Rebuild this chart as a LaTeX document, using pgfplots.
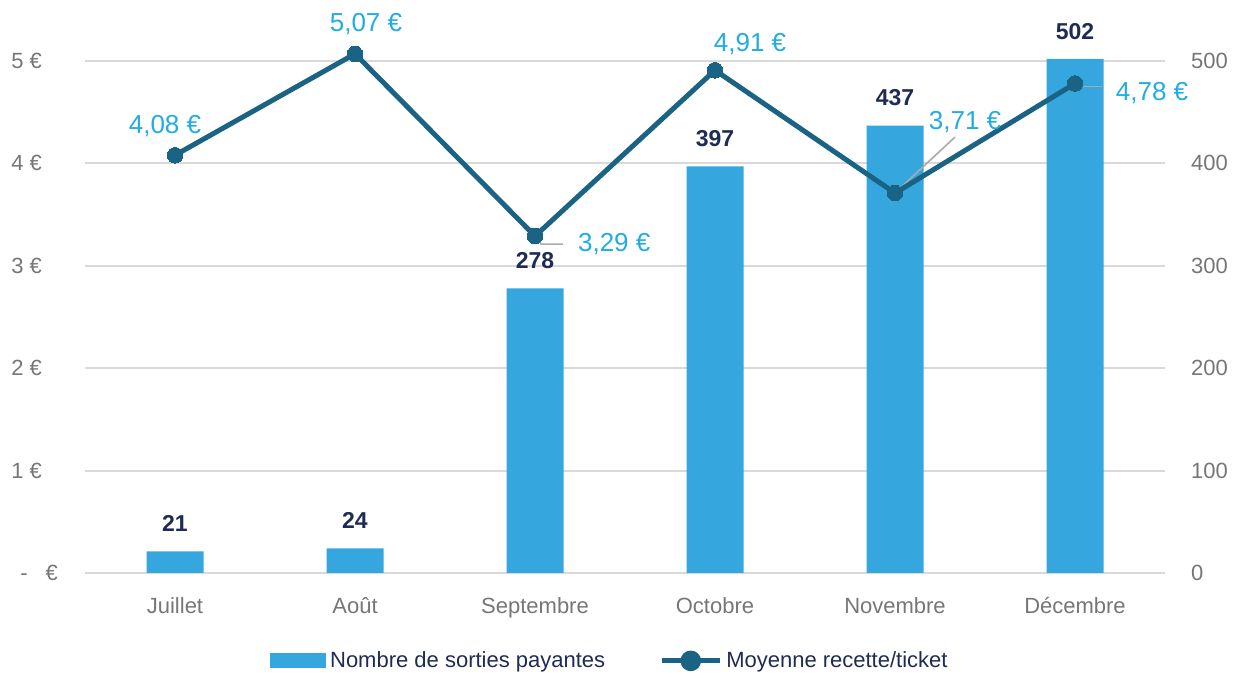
\documentclass[border=0pt]{standalone}
\usepackage{pgfplots}
\pgfplotsset{compat=1.18}
\usepackage{fontspec}
\setmainfont{Liberation Sans}
\definecolor{barcol}{RGB}{53,167,222}
\definecolor{linecol}{RGB}{26,99,133}
\definecolor{lblcol}{RGB}{33,172,226}
\definecolor{navy}{RGB}{30,43,86}
\definecolor{tickcol}{RGB}{118,118,118}
\definecolor{gridcol}{RGB}{217,217,217}
\definecolor{leadcol}{RGB}{170,170,170}
\tikzset{
  lbl/.style={font=\fontsize{13}{15}\selectfont, text=lblcol},
  leader/.style={draw=leadcol, line width=0.8pt},
}
\begin{document}
\begin{tikzpicture}
\path[use as bounding box] (-42.5pt,-52.5pt) rectangle (575.5pt,286.5pt);
\begin{axis}[
  at={(0pt,0pt)}, anchor=south west,
  width=540pt, height=281.6pt, scale only axis,
  xmin=-0.5, xmax=5.5, ymin=0, ymax=550,
  axis line style={draw=none}, tick style={draw=none},
  xtick={0,...,5},
  xticklabels={Juillet,Août,Septembre,Octobre,Novembre,Décembre},
  ytick={0,100,200,300,400,500},
  yticklabels={0,100,200,300,400,500},
  yticklabel pos=right,
  ymajorgrids, grid style={draw=gridcol, line width=1pt},
  tick label style={font=\fontsize{11}{13}\selectfont, text=tickcol},
  yticklabel style={anchor=west, xshift=9.5pt},
  xticklabel style={yshift=-4.5pt},
  ybar, bar width=28.5pt,
  nodes near coords,
  nodes near coords style={font=\fontsize{11.5}{13}\selectfont\bfseries, text=navy, yshift=6.3pt},
  /pgf/number format/assume math mode=true,
  clip=false,
]
\addplot[fill=barcol, draw=none] coordinates {(0,21)(1,24)(2,278)(3,397)(4,437)(5,502)};
\end{axis}
\begin{axis}[
  at={(0pt,0pt)}, anchor=south west,
  width=540pt, height=281.6pt, scale only axis,
  xmin=-0.5, xmax=5.5, ymin=0, ymax=5.5,
  axis line style={draw=none}, tick style={draw=none},
  xtick=\empty,
  ytick={0,1,2,3,4,5},
  yticklabels={{-\hspace{9pt}€\kern-8pt},1 €,2 €,3 €,4 €,5 €},
  tick label style={font=\fontsize{11}{13}\selectfont, text=tickcol},
  yticklabel style={anchor=east, xshift=-18pt},
  clip=false,
  legend columns=2,
  legend style={at={(0.487,-0.156)}, anchor=center, draw=none, fill=none,
    font=\fontsize{11}{13}\selectfont, text=navy,
    /tikz/every even column/.append style={column sep=25pt}},
]
\addlegendimage{legend image code/.code={\fill[barcol] (0pt,-3.5pt) rectangle (27.5pt,3.5pt);}}
\addlegendentry{Nombre de sorties payantes}
\draw[leader] ([xshift=1.5pt,yshift=-1pt]axis cs:2,3.29) -- ([xshift=3pt,yshift=-4pt]axis cs:2,3.29) -- ([xshift=14pt,yshift=-4pt]axis cs:2,3.29);
\draw[leader] ([xshift=1.5pt,yshift=1.5pt]axis cs:4,3.71) -- ([xshift=30pt,yshift=28pt]axis cs:4,3.71);
\draw[leader] ([xshift=4pt,yshift=-1.5pt]axis cs:5,4.78) -- ([xshift=13.5pt,yshift=-1.5pt]axis cs:5,4.78);
\addplot[color=linecol, line width=2.5pt, line join=round, mark=*, mark size=3.9pt,
  mark options={fill=linecol, draw=linecol, line width=0pt},
  legend image code/.code={\draw[linecol, line width=2.5pt] (0pt,0pt) -- (29pt,0pt); \fill[linecol] (14.5pt,0pt) circle (3.9pt);}]
  coordinates {(0,4.08)(1,5.07)(2,3.29)(3,4.91)(4,3.71)(5,4.78)};
\addlegendentry{Moyenne recette/ticket}
\node[lbl, xshift=-5pt, yshift=14.5pt] at (axis cs:0,4.08) {4,08 €};
\node[lbl, xshift=5.5pt, yshift=15pt] at (axis cs:1,5.07) {5,07 €};
\node[lbl, anchor=west, xshift=18pt, yshift=-4pt] at (axis cs:2,3.29) {3,29 €};
\node[lbl, xshift=17.5pt, yshift=13pt] at (axis cs:3,4.91) {4,91 €};
\node[lbl, xshift=35pt, yshift=35.5pt] at (axis cs:4,3.71) {3,71 €};
\node[lbl, xshift=38.5pt, yshift=-5pt] at (axis cs:5,4.78) {4,78 €};
\end{axis}
\end{tikzpicture}
\end{document}
